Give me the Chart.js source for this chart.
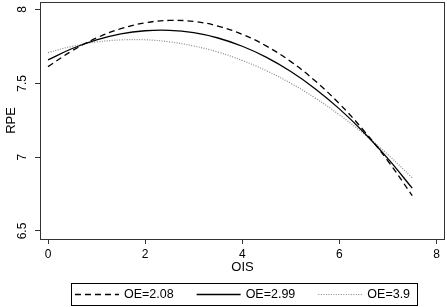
<!DOCTYPE html>
<html>
<head>
<meta charset="utf-8">
<script src="https://cdn.jsdelivr.net/npm/chart.js@4"></script>
<style>
  html, body { margin: 0; padding: 0; background: #fff; }
  #c { display: block; }
</style>
</head>
<body>
<canvas id="c" width="447" height="307"></canvas>
<script>
/* ---- Data ---- */
const ois    = [0, 0.5, 1, 1.5, 2, 2.5, 3, 3.5, 4, 4.5, 5, 5.5, 6, 6.5, 7, 7.5];
const oe208  = [7.613, 7.721, 7.807, 7.870, 7.910, 7.926, 7.919, 7.888, 7.832, 7.752, 7.647, 7.517, 7.362, 7.181, 6.974, 6.740];
const oe299  = [7.659, 7.736, 7.794, 7.835, 7.856, 7.859, 7.843, 7.807, 7.751, 7.676, 7.580, 7.464, 7.327, 7.169, 6.990, 6.790];
const oe39   = [7.708, 7.751, 7.780, 7.794, 7.795, 7.781, 7.753, 7.712, 7.655, 7.585, 7.500, 7.401, 7.287, 7.159, 7.017, 6.860];
const seriesLabels = ['OE=2.08', 'OE=2.99', 'OE=3.9'];
const xTicks = [0, 2, 4, 6, 8];
const yTicks = [6.5, 7, 7.5, 8];

const FONT = '"Liberation Sans", Arial, sans-serif';
Chart.defaults.font.family = FONT;
Chart.defaults.color = '#000';

const toPoints = ys => ys.map((y, i) => ({ x: ois[i], y }));

// plot frame, rotated y labels and a boxed legend underneath, Stata style
const stataBits = {
  id: 'stataBits',
  afterDraw(chart) {
    const ctx = chart.ctx;
    const a = chart.chartArea;
    const yScale = chart.scales.y;
    ctx.save();
    ctx.strokeStyle = '#333';
    ctx.lineWidth = 1;
    ctx.strokeRect(a.left + 0.5, a.top + 0.5, a.right - a.left - 1, a.bottom - a.top);

    // y tick labels, reading bottom to top
    ctx.fillStyle = '#000';
    ctx.font = '12px ' + FONT;
    ctx.textAlign = 'center';
    ctx.textBaseline = 'middle';
    yTicks.forEach(v => {
      ctx.save();
      ctx.translate(a.left - 17, yScale.getPixelForValue(v));
      ctx.rotate(-Math.PI / 2);
      ctx.fillText(String(v), 0, 0);
      ctx.restore();
    });

    ctx.font = '12.5px ' + FONT;
    ctx.textAlign = 'left';
    const sample = 44, gap = 5, space = 23;
    const items = chart.data.datasets.map(ds => ({ ds, w: ctx.measureText(ds.label).width }));
    const total = items.reduce((s, it) => s + sample + gap + it.w, 0) + space * (items.length - 1);
    let x = (a.left + a.right) / 2 - total / 2;
    const y = chart.height - 12.5;
    ctx.strokeStyle = '#000';
    ctx.strokeRect(Math.round(x - 4) + 0.5, chart.height - 24 + 0.5, Math.round(total + 11), 22);
    items.forEach(it => {
      ctx.strokeStyle = it.ds.borderColor;
      ctx.lineWidth = it.ds.borderWidth;
      ctx.setLineDash(it.ds.borderDash || []);
      ctx.beginPath();
      ctx.moveTo(x, y);
      ctx.lineTo(x + sample, y);
      ctx.stroke();
      ctx.setLineDash([]);
      ctx.fillText(it.ds.label, x + sample + gap, y);
      x += sample + gap + it.w + space;
    });
    ctx.restore();
  }
};

const axisGrid = { drawOnChartArea: false, drawTicks: true, tickLength: 5, color: '#333', lineWidth: 1 };

new Chart(document.getElementById('c'), {
  type: 'line',
  data: {
    datasets: [
      { label: seriesLabels[0], data: toPoints(oe208), borderColor: '#000', borderWidth: 1.3, borderDash: [6, 4] },
      { label: seriesLabels[1], data: toPoints(oe299), borderColor: '#000', borderWidth: 1.3 },
      { label: seriesLabels[2], data: toPoints(oe39),  borderColor: '#888', borderWidth: 1.2, borderDash: [1, 1.5] }
    ]
  },
  options: {
    responsive: false,
    animation: false,
    layout: { padding: { left: 0, right: 2, top: 2, bottom: 30 } },
    elements: {
      point: { radius: 0 },
      line: { tension: 0.4, fill: false }
    },
    plugins: { legend: { display: false }, tooltip: { enabled: false } },
    scales: {
      x: {
        type: 'linear',
        min: -0.165,
        max: 8.175,
        afterBuildTicks: s => { s.ticks = xTicks.map(v => ({ value: v })); },
        afterFit: s => { s.height = 38; },
        grid: axisGrid,
        border: { display: false },
        ticks: { font: { size: 12 }, padding: 3, maxRotation: 0, callback: v => String(v) },
        title: { display: true, text: 'OIS', font: { size: 13 }, padding: { top: 0, bottom: 2 } }
      },
      y: {
        type: 'linear',
        min: 6.4458,
        max: 8.0508,
        afterBuildTicks: s => { s.ticks = yTicks.map(v => ({ value: v })); },
        afterFit: s => { s.width = 40; },
        grid: axisGrid,
        border: { display: false },
        ticks: { display: false },
        title: { display: true, text: 'RPE', font: { size: 13 }, padding: { top: 4, bottom: 0 } }
      }
    }
  },
  plugins: [stataBits]
});
</script>
</body>
</html>
